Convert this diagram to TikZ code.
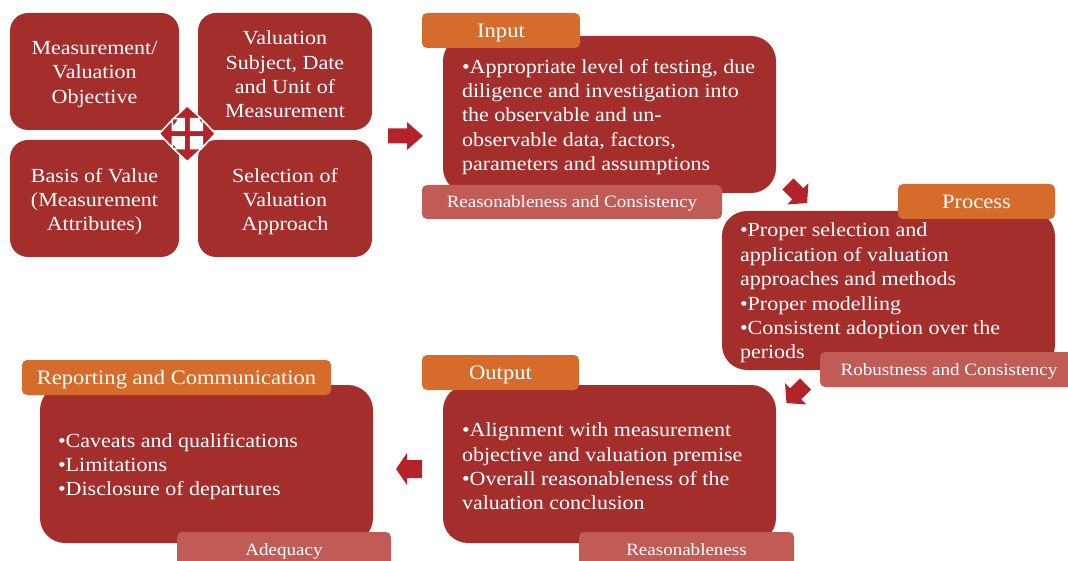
\documentclass[tikz,border=0pt]{standalone}
\usepackage{fontspec}
\setmainfont{Liberation Serif}[FakeStretch=1.1]
\definecolor{mainred}{HTML}{A32E2B}
\definecolor{tabor}{HTML}{D56C2B}
\definecolor{tablt}{HTML}{C05B56}
\definecolor{arrred}{HTML}{B5232A}
\newcommand\myarrow[7]{% cx, cy, angle, halflen, headbase, headhalf, shafthalf
  \begin{scope}[shift={(#1,#2)},rotate=#3]
    \fill[arrred] (-#4,-#7) -- (#5,-#7) -- (#5,-#6) -- (#4,0) -- (#5,#6) -- (#5,#7) -- (-#4,#7) -- cycle;
  \end{scope}}
\begin{document}
\begin{tikzpicture}[x=1pt,y=-1pt,
  bodyfont/.style={font=\fontsize{20}{24.4}\selectfont},
  smallbox/.style={fill=mainred,rounded corners=18pt,inner sep=0pt},
  smalltext/.style={text=white,align=center,inner sep=0pt,bodyfont,yshift=-3pt},
  mainbox/.style={fill=mainred,rounded corners=25pt,minimum width=333pt,inner sep=0pt},
  bodytext/.style={text=white,align=left,anchor=west,inner sep=0pt,bodyfont,yshift=-2.5pt},
  headtab/.style={fill=tabor,rounded corners=5pt,minimum height=35pt,inner sep=0pt,text=white,
    font=\fontsize{20.5}{22}\selectfont,text height=13.6pt,text depth=0pt},
  foottab/.style={fill=tablt,rounded corners=5pt,minimum height=35pt,inner sep=0pt,text=white,
    font=\fontsize{17.3}{20}\selectfont,text height=11.5pt,text depth=0pt},
]
\useasboundingbox (0,0) rectangle (1068,561);
\clip (0,0) rectangle (1068,561);

% small boxes
\node[smallbox,minimum width=169pt,minimum height=117pt] (obj) at (94.5,71.5) {};
\node[smalltext] (objt) at (obj.center) {Measurement/\\Valuation\\Objective};
\node[smallbox,minimum width=174pt,minimum height=117pt] (subj) at (285,71.5) {};
\node[smalltext] (subjt) at (subj.center) {Valuation\\Subject, Date\\and Unit of\\Measurement};
\node[smallbox,minimum width=169pt,minimum height=117pt] (basis) at (94.5,198.5) {};
\node[smalltext] (basist) at (basis.center) {Basis of Value\\(Measurement\\Attributes)};
\node[smallbox,minimum width=174pt,minimum height=117pt] (sel) at (285,198.5) {};
\node[smalltext] (selt) at (sel.center) {Selection of\\Valuation\\Approach};

% four-way arrow
\begin{scope}[shift={(187.3,133.7)}]
\filldraw[arrred,draw=white,line width=1.5pt,line join=miter]
  (28,0) -- (15,-14) -- (15,-3.2) -- (3.2,-3.2) -- (3.2,-15) -- (14,-15) -- (0,-28)
  -- (-14,-15) -- (-3.2,-15) -- (-3.2,-3.2) -- (-15,-3.2) -- (-15,-14) -- (-28,0)
  -- (-15,14) -- (-15,3.2) -- (-3.2,3.2) -- (-3.2,15) -- (-14,15) -- (0,28)
  -- (14,15) -- (3.2,15) -- (3.2,3.2) -- (15,3.2) -- (15,14) -- cycle;
\end{scope}

% Input
\node[mainbox,minimum height=157pt] (inbox) at (609.5,114.5) {};
\node[bodytext] (intext) at ([xshift=19pt]inbox.west) {\textbullet Appropriate level of testing, due\\diligence and investigation into\\the observable and un-\\observable data, factors,\\parameters and assumptions};
\node[headtab,minimum width=158pt] (intab) at (501,30.5) {Input};
\node[foottab,minimum width=300pt,minimum height=34pt] (infoot) at (572,202) {Reasonableness and Consistency};

% Process
\node[mainbox,minimum height=159pt] (prbox) at (888.5,290.5) {};
\node[bodytext] (prtext) at ([xshift=18pt]prbox.west) {\textbullet Proper selection and\\application of valuation\\approaches and methods\\\textbullet Proper modelling\\\textbullet Consistent adoption over the\\periods};
\node[headtab,minimum width=157pt] (prtab) at (976.5,201.5) {Process};
\node[foottab,minimum width=258pt] (prfoot) at (949,369.5) {Robustness and Consistency};

% Output
\node[mainbox,minimum height=158pt] (outbox) at (609.5,464) {};
\node[bodytext] (outtext) at ([xshift=19pt]outbox.west) {\textbullet Alignment with measurement\\objective and valuation premise\\\textbullet Overall reasonableness of the\\valuation conclusion};
\node[headtab,minimum width=157pt] (outtab) at (500.5,372.5) {Output};
\node[foottab,minimum width=215pt] (outfoot) at (686.5,549.5) {Reasonableness};

% Reporting
\node[mainbox,minimum height=158pt] (repbox) at (206.5,464) {};
\node[bodytext] (reptext) at ([xshift=18pt]repbox.west) {\textbullet Caveats and qualifications\\\textbullet Limitations\\\textbullet Disclosure of departures};
\node[headtab,minimum width=309pt] (reptab) at (176.5,377.5) {Reporting and Communication};
\node[foottab,minimum width=214pt] (repfoot) at (284,549.5) {Adequacy};

% block arrows
\myarrow{405.5}{136}{0}{17.5}{1.5}{14}{7.5}
\myarrow{797.5}{193.5}{-45}{13.5}{0.5}{15}{7.8}
\myarrow{796}{393.5}{-135}{13.5}{0.5}{15}{7.8}
\myarrow{409}{469}{180}{13}{2}{16}{9}
\end{tikzpicture}
\end{document}
